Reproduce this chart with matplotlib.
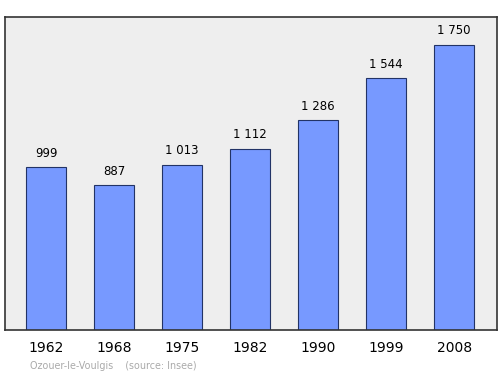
import numpy as np
import matplotlib.pyplot as plt

years = ['1962', '1968', '1975', '1982', '1990', '1999', '2008']
population = [999, 887, 1013, 1112, 1286, 1544, 1750]
value_labels = ['999', '887', '1 013', '1 112', '1 286', '1 544', '1 750']

fig = plt.figure(figsize=(5, 3.74), dpi=100)
ax = fig.add_axes([0.01, 0.118, 0.984, 0.837])
ax.set_facecolor('#eeeeee')

x = np.arange(len(years))
ax.bar(x, population, width=0.588, color='#7799ff', edgecolor='#223366', linewidth=0.8)
for xi, v, lab in zip(x, population, value_labels):
    ax.annotate(lab, (xi, v), xytext=(0, 5.5), textcoords='offset points',
                ha='center', va='bottom', fontsize=8.5)

ax.set_xlim(-0.603, 6.63)
ax.set_ylim(0, 1922)
ax.set_yticks([])
ax.set_xticks(x)
ax.set_xticklabels(years, fontsize=10)
ax.tick_params(axis='x', length=0, pad=8)
for s in ax.spines.values():
    s.set_linewidth(1.2)
    s.set_color('#333333')

fig.text(0.06, 0.014, 'Ozouer-le-Voulgis    (source: Insee)', fontsize=6.9, color='#aaaaaa')
fig.savefig('out.png')
